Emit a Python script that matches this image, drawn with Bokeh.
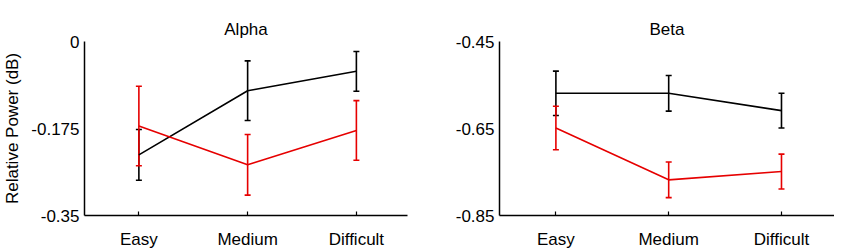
from bokeh.plotting import figure
from bokeh.layouts import row
from bokeh.models import Range1d, FixedTicker, ColumnDataSource, Whisker, TeeHead
from bokeh.embed import file_html
from bokeh.resources import INLINE

categories = ["Easy", "Medium", "Difficult"]
xpos = [1, 2, 3]

alpha_black_mean = [-0.228, -0.099, -0.060]
alpha_black_err = [0.051, 0.060, 0.040]
alpha_red_mean = [-0.170, -0.248, -0.179]
alpha_red_err = [0.080, 0.061, 0.060]

beta_black_mean = [-0.569, -0.569, -0.609]
beta_black_err = [0.051, 0.041, 0.040]
beta_red_mean = [-0.649, -0.768, -0.749]
beta_red_err = [0.050, 0.041, 0.040]

alpha_ticks = [-0.35, -0.175, 0]
beta_ticks = [-0.85, -0.65, -0.45]

FONT = "Liberation Sans"
BLACK = "#000000"
RED = "#e60000"
X0, X1 = 0.5, 3.47


def make_panel(title, ymin, ymax, yticks, series, width, border_left, border_right, ylabel=None):
    p = figure(width=width, height=251, output_backend="svg", toolbar_location=None,
               x_range=Range1d(X0, X1), y_range=Range1d(ymin, ymax),
               min_border_left=border_left, min_border_right=border_right,
               min_border_top=41, min_border_bottom=36, title=title)
    p.title.align = "center"
    p.title.vertical_align = "top"
    p.title.text_line_height = 2.0
    p.title.text_font = FONT
    p.title.text_font_size = "17px"
    p.title.text_font_style = "normal"
    p.title.text_color = "black"
    p.title.offset = 0
    p.title.standoff = 2
    p.outline_line_color = None
    p.grid.visible = False
    p.background_fill_color = "white"
    p.border_fill_color = "white"

    for mean, err, color in series:
        lower = [m - e for m, e in zip(mean, err)]
        upper = [m + e for m, e in zip(mean, err)]
        src = ColumnDataSource(dict(x=xpos, y=mean, lower=lower, upper=upper))
        p.line("x", "y", source=src, line_color=color, line_width=1.6)
        w = Whisker(source=src, base="x", lower="lower", upper="upper",
                    line_color=color, line_width=1.6,
                    upper_head=TeeHead(size=6, line_color=color, line_width=1.6),
                    lower_head=TeeHead(size=6, line_color=color, line_width=1.6))
        p.add_layout(w)

    p.xaxis.ticker = FixedTicker(ticks=xpos)
    p.xaxis.major_label_overrides = {i: c for i, c in zip(xpos, categories)}
    p.yaxis.ticker = FixedTicker(ticks=yticks)
    p.yaxis.major_label_overrides = {t: ("0" if t == 0 else f"{t:g}") for t in yticks}
    for ax in (p.xaxis, p.yaxis):
        ax.axis_line_color = "black"
        ax.axis_line_width = 1.5
        ax.major_label_text_font = FONT
        ax.major_label_text_font_size = "17px"
        ax.major_label_text_color = "black"
        ax.minor_tick_line_color = None
    p.xaxis.major_tick_in = 4
    p.xaxis.major_tick_out = 0
    p.xaxis.major_tick_line_color = "black"
    p.xaxis.major_tick_line_width = 1.2
    p.xaxis.major_label_standoff = 14
    p.yaxis.major_tick_in = 0
    p.yaxis.major_tick_out = 0
    p.yaxis.major_label_standoff = 5
    if ylabel:
        p.yaxis.axis_label = ylabel
        p.yaxis.axis_label_text_font = FONT
        p.yaxis.axis_label_text_font_size = "17px"
        p.yaxis.axis_label_text_font_style = "normal"
        p.yaxis.axis_label_text_color = "black"
        p.yaxis.axis_label_standoff = 6
    return p


p1 = make_panel("Alpha", -0.35, 0, alpha_ticks,
                [(alpha_black_mean, alpha_black_err, BLACK), (alpha_red_mean, alpha_red_err, RED)],
                417, 72, 10, ylabel="Relative Power (dB)")
p2 = make_panel("Beta", -0.85, -0.45, beta_ticks,
                [(beta_black_mean, beta_black_err, BLACK), (beta_red_mean, beta_red_err, RED)],
                417, 82, 0)

layout = row(p1, p2)
open("out.html", "w").write(file_html(layout, INLINE))
